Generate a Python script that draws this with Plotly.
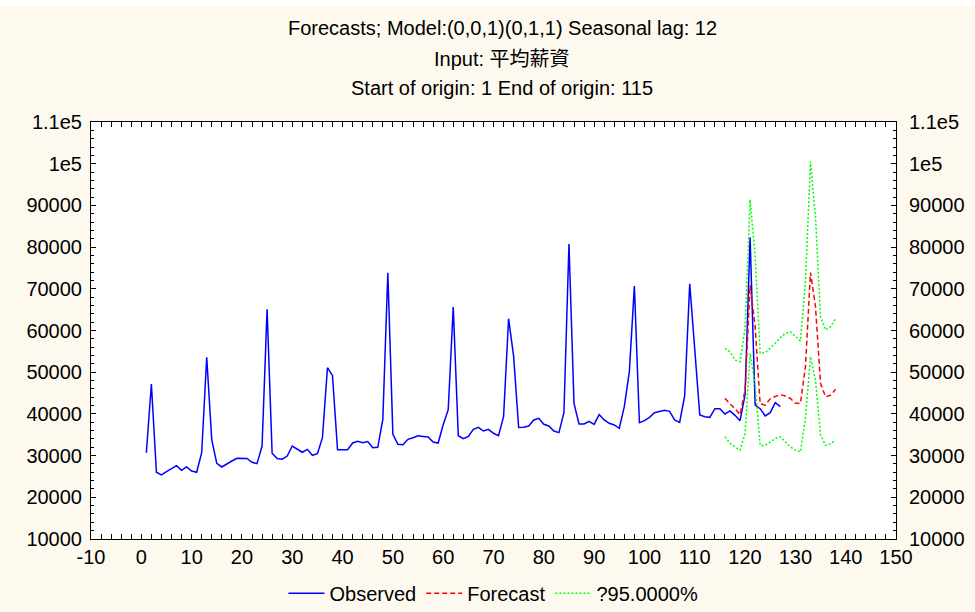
import plotly.graph_objects as go

# ---- data ----
obs_x = list(range(1, 128))
observed = [
    30700, 47170, 26000, 25350, 26150, 26950, 27580, 26470, 27270, 26300,
    26000, 30700, 53570, 33740, 28150, 27270, 28060, 28700, 29350, 29350,
    29300, 28400, 28060, 32300, 65080, 30550, 29300, 29150, 29900, 32300,
    31650, 30800, 31500, 30070, 30460, 34300, 51080, 49160, 31420, 31420,
    31420, 33020, 33430, 33100, 33350, 31900, 31980, 38700, 73860, 35100,
    32700, 32620, 33900, 34300, 34770, 34600, 34450, 33260, 33020, 37400,
    41000, 65640, 34770, 34050, 34600, 36300, 36790, 35900, 36300, 35350,
    34770, 39330, 62830, 53800, 36750, 36800, 37100, 38540, 38950, 37500,
    37100, 35900, 35500, 40290, 80740, 42540, 37580, 37580, 38220, 37500,
    39830, 38540, 37740, 37340, 36550, 41730, 50120, 70670, 37900, 38370,
    39180, 40290, 40620, 40860, 40620, 38540, 37980, 44360, 71220, 55560,
    39740, 39330, 39180, 41250, 41250, 39980, 40700, 39660, 38370, 44530,
    82350, 42130, 41250, 39500, 40290, 42690, 41730,
]

fc_x = list(range(116, 139))
forecast = [43740, 42370, 41300, 39800, 45700, 70800, 61000, 42400, 42100, 43600,
            44200, 44600, 44300, 43700, 42600, 42500, 51300, 73900, 65700, 47300,
            44100, 44500, 45900]
upper95 = [55730, 54900, 52900, 52500, 60500, 91400, 78000, 54500, 54700, 55700,
           56900, 58300, 59300, 59700, 58500, 57500, 71400, 100500, 87300, 63300,
           60100, 60900, 62900]
lower95 = [34500, 32950, 32100, 31300, 35300, 54500, 47000, 32450, 32450, 33250,
           34100, 34500, 33250, 32100, 31300, 30900, 39000, 53700, 48000, 35000,
           32450, 32850, 33700]

x_ticks = list(range(-10, 151, 10))
x_labels = [str(v) for v in x_ticks]  # plain hyphen for "-10"
y_ticks = list(range(10000, 110001, 10000))
y_labels = [str(v) for v in y_ticks[:-2]] + ["1e5", "1.1e5"]

title_lines = [
    "Forecasts; Model:(0,0,1)(0,1,1) Seasonal lag: 12",
    "Input: 平均薪資",
    "Start of origin: 1 End of origin: 115",
]

FONT = "Liberation Sans, Arial, Noto Sans CJK TC, sans-serif"
BG = "#FEF9EF"
FS = 20

fig = go.Figure()
fig.add_trace(go.Scatter(x=obs_x, y=observed, mode="lines", name="Observed",
                         line=dict(color="#0000FF", width=1.5)))
fig.add_trace(go.Scatter(x=fc_x, y=forecast, mode="lines", name="Forecast",
                         line=dict(color="#FF0000", width=1.5, dash="5px,3px")))
fig.add_trace(go.Scatter(x=fc_x, y=upper95, mode="lines", name="?95.0000%",
                         legendgroup="ci", line=dict(color="#00FF00", width=1.5, dash="2px,2px")))
fig.add_trace(go.Scatter(x=fc_x, y=lower95, mode="lines", name="?95.0000%",
                         legendgroup="ci", showlegend=False,
                         line=dict(color="#00FF00", width=1.5, dash="2px,2px")))
# invisible helper so the right-hand axis is drawn
fig.add_trace(go.Scatter(x=[obs_x[0]], y=[observed[0]], yaxis="y2", mode="markers",
                         marker=dict(opacity=0), showlegend=False, hoverinfo="skip"))

axis_common = dict(
    showline=True, linecolor="black", linewidth=1, mirror="allticks",
    ticks="inside", ticklen=5, tickcolor="black", tickwidth=1,
    showgrid=False, zeroline=False,
    tickfont=dict(family=FONT, size=FS, color="black"),
)

fig.update_layout(
    width=975, height=612,
    paper_bgcolor=BG, plot_bgcolor="white",
    margin=dict(l=91, r=79, t=122, b=73, autoexpand=False),
    font=dict(family=FONT, size=FS, color="black"),
    xaxis=dict(range=[-10, 150], tickvals=x_ticks, ticktext=x_labels, ticklabelstandoff=0,
               minor=dict(ticks="inside", ticklen=3, dtick=2, tick0=0, tickcolor="black"),
               **axis_common),
    yaxis=dict(range=[10000, 110000], tickvals=y_ticks, ticktext=y_labels,
               ticklabelstandoff=4,
               minor=dict(ticks="inside", ticklen=3, dtick=2000, tick0=10000, tickcolor="black"),
               **axis_common),
    yaxis2=dict(range=[10000, 110000], tickvals=y_ticks, ticktext=y_labels,
                overlaying="y", side="right", showline=False, ticks="",
                showgrid=False, zeroline=False, ticklabelstandoff=12,
                tickfont=dict(family=FONT, size=FS, color="black")),
    legend=dict(orientation="h", x=0.5, xanchor="center", y=-0.13, yanchor="middle",
                bgcolor="rgba(0,0,0,0)", font=dict(family=FONT, size=FS),
                itemwidth=36, tracegroupgap=0),
    showlegend=True,
)

for txt, py in zip(title_lines, [28, 59, 88]):
    fig.add_annotation(text=txt, xref="paper", yref="paper",
                       x=(502 - 91) / 805, y=(539 - py) / 417,
                       xanchor="center", yanchor="middle", showarrow=False,
                       font=dict(family=FONT, size=20, color="black"))

# thin white strip at the very top of the page
fig.add_shape(type="rect", xref="paper", yref="paper",
              x0=-91 / 805, x1=1 + 79 / 805, y0=(539 - 6) / 417, y1=(539 + 2) / 417,
              fillcolor="white", line=dict(width=0), layer="below")

fig.write_html("out.html")
